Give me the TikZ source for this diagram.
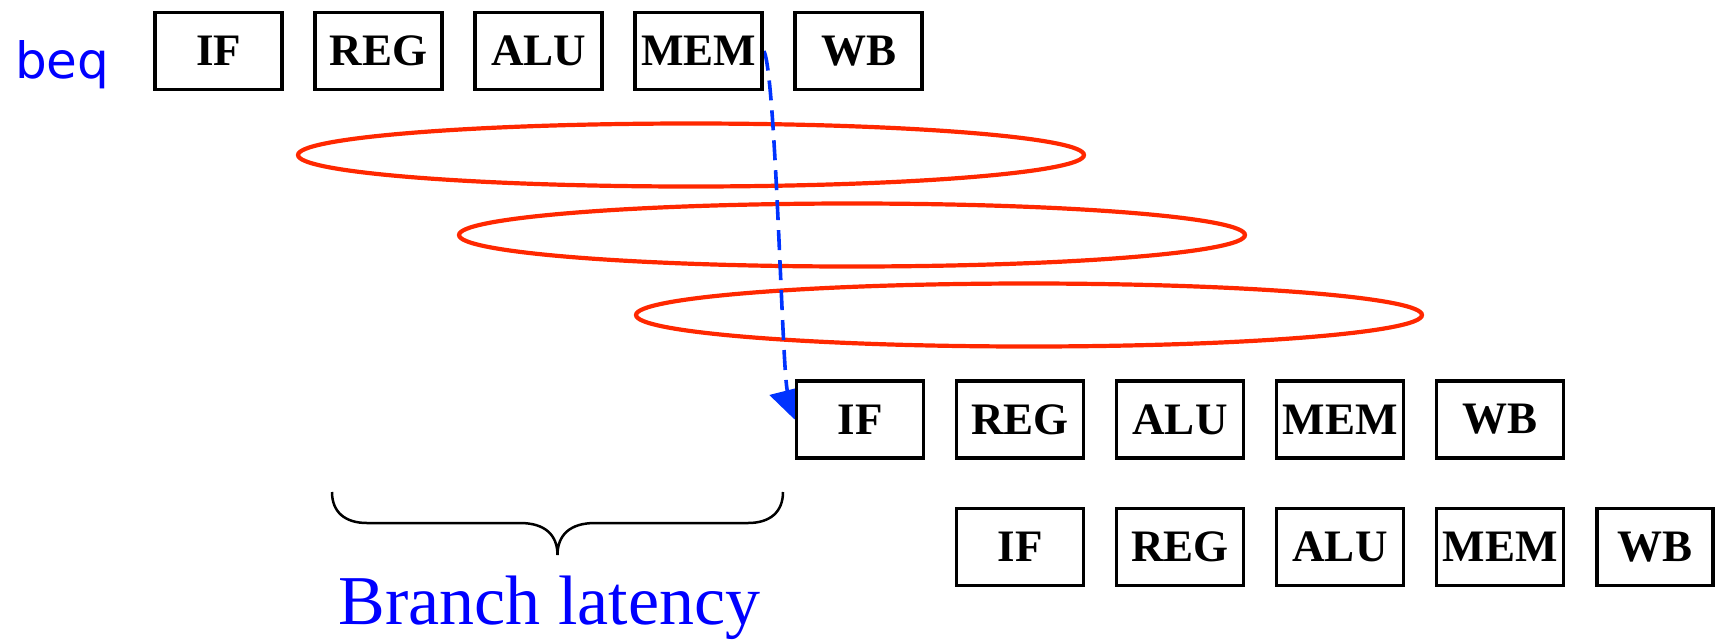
\documentclass[tikz,border=0pt]{standalone}
\usepackage{fontspec}
\setmainfont{Liberation Serif}
\newfontfamily\labelsans{DejaVu Sans}
\usetikzlibrary{arrows.meta,backgrounds}

\definecolor{instrblue}{RGB}{0,0,255}
\definecolor{flowblue}{RGB}{0,51,255}
\definecolor{ringred}{RGB}{255,40,0}

\tikzset{
  stage/.style={draw=black, line width=3.8pt, fill=white, inner sep=0pt,
    minimum width=127pt, minimum height=77pt,
    font=\fontsize{45}{54}\selectfont\bfseries},
  ring/.style={draw=ringred, line width=4.2pt},
  flow/.style={draw=flowblue, line width=3.6pt, dash pattern=on 20pt off 10pt,
    -{Triangle[length=30pt,width=36pt]}},
  brace/.style={draw=black, line width=2.5pt},
}

\begin{document}
\begin{tikzpicture}[x=1pt,y=-1pt]
\useasboundingbox (0,0) rectangle (1717,641);

% instruction label
\node[anchor=base west, inner sep=0pt, text=instrblue,
      font=\labelsans\fontsize{50}{60}\selectfont] (beq) at (15,78) {beq};

% pipeline of the branch instruction
\node[stage] (i1) at (218.5,51) {IF};
\node[stage] (r1) at (378.5,51) {REG};
\node[stage] (a1) at (538.5,51) {ALU};
\node[stage] (m1) at (698.5,51) {MEM};
\node[stage] (w1) at (858.5,51) {WB};

% branch target
\node[stage] (i2) at (860,419.5) {IF};
\node[stage] (r2) at (1020,419.5) {REG};
\node[stage] (a2) at (1180,419.5) {ALU};
\node[stage] (m2) at (1340,419.5) {MEM};
\node[stage] (w2) at (1500,419.5) {WB};

% following instruction
\node[stage] (i3) at (1020,547) {IF};
\node[stage] (r3) at (1180,547) {REG};
\node[stage] (a3) at (1340,547) {ALU};
\node[stage] (m3) at (1500,547) {MEM};
\node[stage, minimum width=116pt] (w3) at (1655,547) {WB};

\begin{scope}[on background layer]
  % wasted issue slots
  \draw[ring] (691,155) ellipse [x radius=393, y radius=31.5];
  \draw[ring] (852,235) ellipse [x radius=393, y radius=31.5];
  \draw[ring] (1029,315) ellipse [x radius=393, y radius=31.5];
  % branch outcome feeds the fetch of the target
  \draw[flow] (m1.east) .. controls (776,75) and (782,370) .. (i2.west);
\end{scope}

% brace spanning the branch latency
\coordinate (bl) at (332,492);
\coordinate (br) at (783,492);
\coordinate (bt) at (557.5,555);
\draw[brace] (bl) .. controls (332,512) and (345,523) .. (367,523)
  -- (520,523) .. controls (545,523) and (557.5,535) .. (bt)
  .. controls (557.5,535) and (570,523) .. (595,523)
  -- (748,523) .. controls (770,523) and (783,512) .. (br);

\node[anchor=base, inner sep=0pt, text=instrblue,
      font=\fontsize{70}{84}\selectfont] (lat) at (549.5,624) {Branch latency};
\end{tikzpicture}
\end{document}
